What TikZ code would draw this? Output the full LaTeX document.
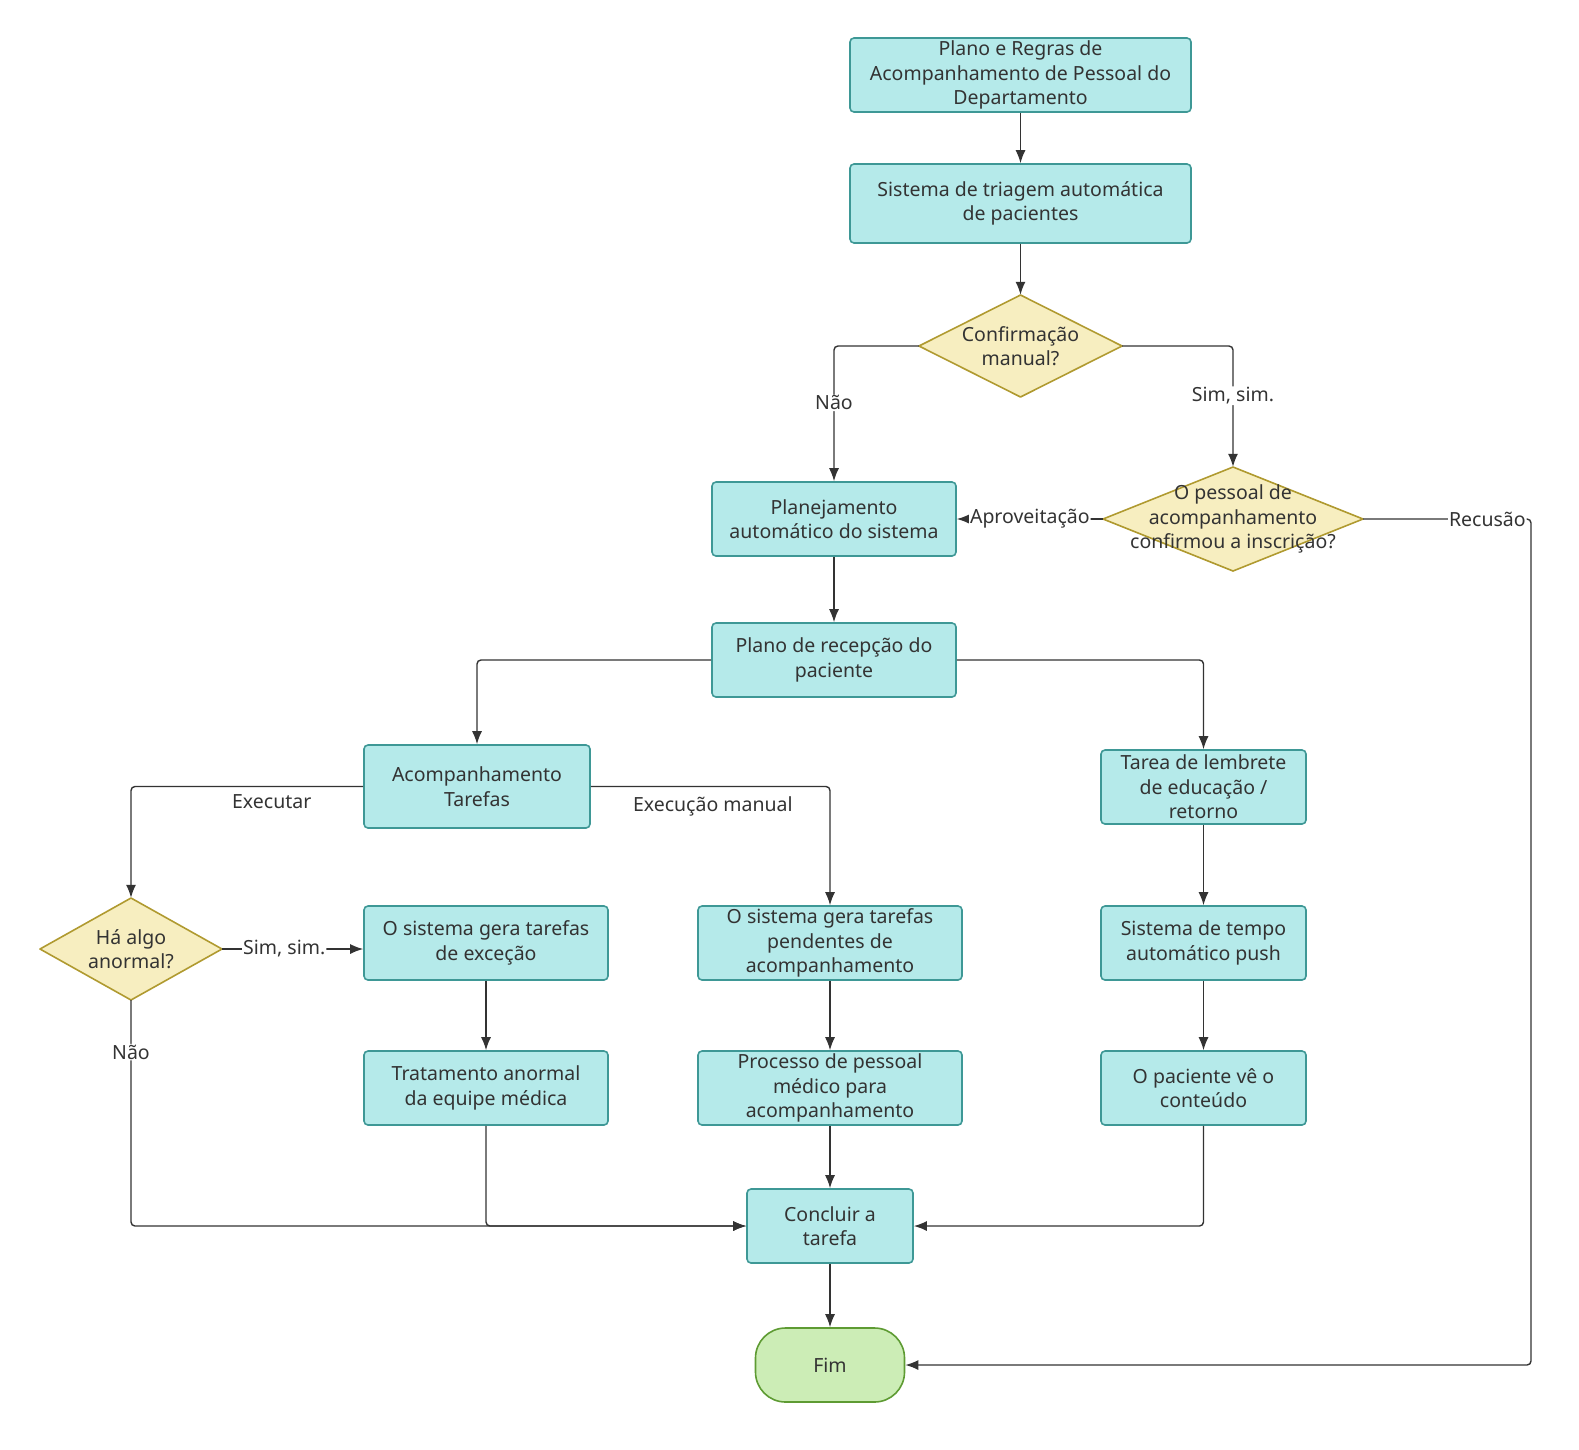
\documentclass[tikz,border=0pt]{standalone}
\usepackage{fontspec}
\setmainfont{Noto Sans}
\usepackage{tikz}
\usetikzlibrary{arrows.meta}
\definecolor{boxfill}{HTML}{B5EAEA}
\definecolor{boxline}{HTML}{3E9896}
\definecolor{askfill}{HTML}{F7EEC0}
\definecolor{askline}{HTML}{B09A30}
\definecolor{endfill}{HTML}{CCEDB6}
\definecolor{endline}{HTML}{5E9B33}
\definecolor{ink}{HTML}{333333}
\tikzset{
  procbox/.style={draw=boxline, fill=boxfill, line width=1.6pt, rounded corners=4pt,
    align=center, inner sep=0pt, text=ink},
  question/.style={draw=askline, fill=askfill, line width=1.6pt, line join=round},
  asktext/.style={inner sep=0pt, align=center, text=ink},
  finish/.style={draw=endline, fill=endfill, line width=1.6pt, rounded corners=30pt,
    align=center, inner sep=0pt, text=ink},
  link/.style={draw=ink, line width=1.4pt, -{Latex[length=13pt,width=10pt]}, rounded corners=4pt},
  linklabel/.style={fill=white, inner sep=1pt, text=ink},
}

\begin{document}
\begin{tikzpicture}[x=1pt, y=-1pt, font=\fontsize{19.5}{24.5}\selectfont]
          % top chain
          \node[procbox, minimum width=341, minimum height=74] (rules) at (1020.5,75)
            {Plano e Regras de\\Acompanhamento de Pessoal do\\Departamento};
          \node[procbox, minimum width=341, minimum height=79] (triage) at (1020.5,203.5)
            {Sistema de triagem automática\\de pacientes};
          \draw[question] (1020.5,295) -- (1122,346) -- (1020.5,397) -- (919,346) -- cycle;
          \node[asktext, minimum width=203, minimum height=102] (manual) at (1020.5,346)
            {Confirmação\\manual?};
          % second level
          \node[procbox, minimum width=244, minimum height=74] (autoplan) at (834,519)
            {Planejamento\\automático do sistema};
          \draw[question] (1233,467) -- (1363,519) -- (1233,571) -- (1103,519) -- cycle;
          \node[asktext, minimum width=260, minimum height=104] (staffok) at (1233,519)
            {O pessoal de\\acompanhamento\\confirmou a inscrição?};
          \node[procbox, minimum width=244, minimum height=74] (reception) at (834,660)
            {Plano de recepção do\\paciente};
          % three branches
          \node[procbox, minimum width=226, minimum height=83] (tasks) at (477,786.5)
            {Acompanhamento\\Tarefas};
          \node[procbox, minimum width=205, minimum height=74] (reminder) at (1203.5,787)
            {Tarea de lembrete\\de educação /\\retorno};
          \draw[question] (131,898) -- (222,949) -- (131,1000) -- (40,949) -- cycle;
          \node[asktext, minimum width=182, minimum height=102] (abnormal) at (131,949)
            {Há algo\\anormal?};
          \node[procbox, minimum width=244, minimum height=74] (exctask) at (486,943)
            {O sistema gera tarefas\\de exceção};
          \node[procbox, minimum width=264, minimum height=74] (pending) at (830,943)
            {O sistema gera tarefas\\pendentes de\\acompanhamento};
          \node[procbox, minimum width=205, minimum height=74] (push) at (1203.5,943)
            {Sistema de tempo\\automático push};
          \node[procbox, minimum width=244, minimum height=74] (treat) at (486,1088)
            {Tratamento anormal\\da equipe médica};
          \node[procbox, minimum width=264, minimum height=74] (medproc) at (830,1088)
            {Processo de pessoal\\médico para\\acompanhamento};
          \node[procbox, minimum width=205, minimum height=74] (sees) at (1203.5,1088)
            {O paciente vê o\\conteúdo};
          % end
          \node[procbox, minimum width=166, minimum height=74] (conclude) at (830,1226)
            {Concluir a\\tarefa};
          \node[finish, minimum width=149, minimum height=74] (fim) at (830,1365) {Fim};
          \coordinate (rturn) at (1531,519);
          % connectors
          \draw[link] (rules) -- (triage);
          \draw[link] (triage) -- (manual.north);
          \draw[link] (manual.west) -| node[linklabel, pos=0.71] {Não} (autoplan.north);
          \draw[link] (manual.east) -| node[linklabel, pos=0.706] {Sim, sim.} (staffok.north);
          \draw[link] (staffok.west) -- node[linklabel, midway] {Aproveitação} (autoplan.east);
          \draw[link] (staffok.east) -- node[linklabel, pos=0.74] {Recusão} (rturn) |- (fim.east);
          \draw[link] (autoplan) -- (reception);
          \draw[link] (reception.west) -| (tasks.north);
          \draw[link] (reception.east) -| (reminder.north);
          \draw[link] (tasks.west) -| node[pos=0.197, below=4pt, text=ink] {Executar} (abnormal.north);
          \draw[link] (tasks.east) -| node[pos=0.255, below=6pt, text=ink] {Execução manual} (pending.north);
          \draw[link] (abnormal.east) -- node[linklabel, pos=0.44] {Sim, sim.} (abnormal.east -| exctask.west);
          \draw[link] (abnormal.south) |- node[linklabel, pos=0.115] {Não} (conclude.west);
          \draw[link] (exctask) -- (treat);
          \draw[link] (treat.south) |- (conclude.west);
          \draw[link] (pending) -- (medproc);
          \draw[link] (medproc) -- (conclude);
          \draw[link] (reminder) -- (push);
          \draw[link] (push) -- (sees);
          \draw[link] (sees.south) |- (conclude.east);
          \draw[link] (conclude) -- (fim);
          \pgfresetboundingbox
          \useasboundingbox (0,0) rectangle (1579,1449);
        \end{tikzpicture}
\end{document}
